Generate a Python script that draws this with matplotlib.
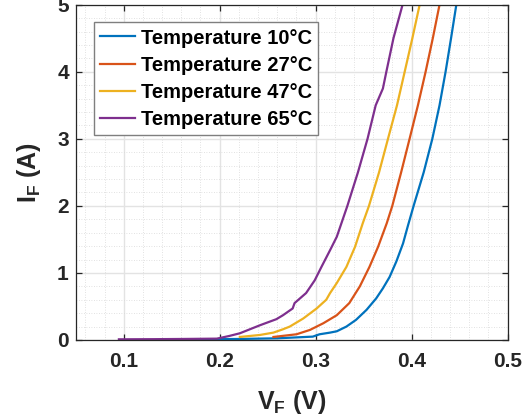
import matplotlib.pyplot as plt
from matplotlib.ticker import MultipleLocator

# Datos (V en voltios, I en amperios)
v_10 = [0.139, 0.18, 0.22, 0.26, 0.297, 0.304, 0.315, 0.322, 0.332, 0.342, 0.353,
        0.363, 0.370, 0.377, 0.384, 0.391, 0.396, 0.402, 0.4125, 0.4215, 0.429,
        0.4353, 0.441, 0.4465]
i_10 = [0.005, 0.01, 0.015, 0.025, 0.05, 0.085, 0.11, 0.13, 0.20, 0.30, 0.45,
        0.62, 0.77, 0.94, 1.17, 1.44, 1.70, 2.0, 2.5, 3.0, 3.5, 4.0, 4.5, 5.0]

v_27 = [0.256, 0.280, 0.294, 0.301, 0.308, 0.315, 0.322, 0.335, 0.346, 0.356, 0.365,
        0.374, 0.3798, 0.389, 0.3978, 0.4065, 0.4145, 0.422, 0.429]
i_27 = [0.045, 0.085, 0.15, 0.20, 0.25, 0.31, 0.37, 0.55, 0.80, 1.09, 1.39,
        1.74, 2.0, 2.5, 3.0, 3.5, 4.0, 4.5, 5.0]

v_47 = [0.221, 0.242, 0.256, 0.266, 0.273, 0.287, 0.301, 0.311, 0.315, 0.322, 0.332,
        0.341, 0.349, 0.3555, 0.366, 0.3753, 0.3847, 0.3927, 0.4007, 0.4083]
i_47 = [0.045, 0.075, 0.11, 0.16, 0.20, 0.32, 0.47, 0.60, 0.70, 0.85, 1.09,
        1.39, 1.74, 2.0, 2.5, 3.0, 3.5, 4.0, 4.5, 5.0]

v_65 = [0.095, 0.13, 0.16, 0.197, 0.21, 0.221, 0.242, 0.259, 0.266, 0.276, 0.278,
        0.290, 0.299, 0.306, 0.315, 0.322, 0.333, 0.344, 0.354, 0.3625, 0.367, 0.370,
        0.3736, 0.381, 0.3905]
i_65 = [0.01, 0.012, 0.015, 0.02, 0.06, 0.10, 0.22, 0.31, 0.37, 0.47, 0.55,
        0.70, 0.89, 1.09, 1.34, 1.54, 2.0, 2.5, 3.0, 3.5, 3.65, 3.75,
        4.0, 4.5, 5.0]

etiquetas = ['Temperature 10°C', 'Temperature 27°C', 'Temperature 47°C', 'Temperature 65°C']
colores = ['#0072BD', '#D95319', '#EDB120', '#7E2F8E']

plt.rcParams['font.family'] = ['Liberation Sans', 'DejaVu Sans']
plt.rcParams['font.weight'] = 'bold'
plt.rcParams['mathtext.fontset'] = 'custom'
plt.rcParams['mathtext.rm'] = 'Liberation Sans:bold'
plt.rcParams['mathtext.it'] = 'Liberation Sans:bold'

fig = plt.figure(figsize=(5.32, 4.17), dpi=100)
ax = fig.add_axes([0.1423, 0.1847, 0.812, 0.804])

series = [(v_10, i_10), (v_27, i_27), (v_47, i_47), (v_65, i_65)]
for (v, i), etiqueta, color in zip(series, etiquetas, colores):
    ax.plot(v, i, color=color, linewidth=1.6, label=etiqueta)

ax.set_xlim(0.05, 0.5)
ax.set_ylim(0, 5)
ax.xaxis.set_major_locator(MultipleLocator(0.1))
ax.xaxis.set_minor_locator(MultipleLocator(0.02))
ax.yaxis.set_major_locator(MultipleLocator(1))
ax.yaxis.set_minor_locator(MultipleLocator(0.2))

# Rejilla estilo MATLAB
ax.grid(True, which='major', color='#e3e3e3', linewidth=1.0)
ax.grid(True, which='minor', color='#d8d8d8', linewidth=0.6, linestyle=(0, (1, 2)))
ax.set_axisbelow(True)

ax.tick_params(which='major', direction='in', length=4, width=0.9, top=True, right=True,
               labelsize=15, colors='#262626')
ax.tick_params(axis='x', which='major', pad=9)
ax.tick_params(axis='y', which='major', pad=5)
ax.tick_params(which='minor', length=0)
for lado in ax.spines.values():
    lado.set_color('#262626')
    lado.set_linewidth(0.9)

ax.set_xlabel(r'$\mathrm{V_F}$ (V)', fontsize=18, fontweight='bold', color='#262626', labelpad=12)
ax.set_ylabel(r'$\mathrm{I_F}$ (A)', fontsize=18, fontweight='bold', color='#262626', labelpad=10)

leg = ax.legend(loc='upper left', bbox_to_anchor=(0.043, 0.947),
                prop={'weight': 'bold', 'size': 14.5}, handlelength=1.7, handletextpad=0.3,
                labelspacing=0.41, borderpad=0.3, borderaxespad=0, fancybox=False,
                framealpha=1, edgecolor='#7f7f7f')
leg.get_frame().set_linewidth(1.0)

fig.savefig('out.png', dpi=100)
